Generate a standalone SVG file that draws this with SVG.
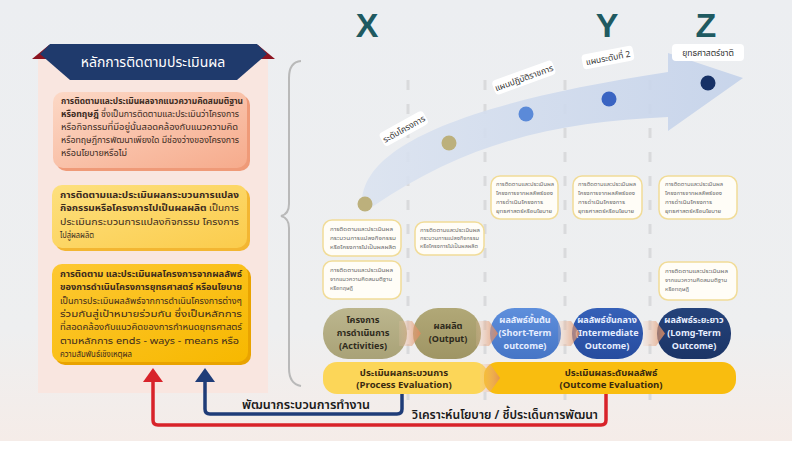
<svg xmlns="http://www.w3.org/2000/svg" width="795" height="450" viewBox="0 0 795 450">
<defs>
<linearGradient id="bg" x1="0" y1="0" x2="0" y2="1"><stop offset="0" stop-color="#eceef1"/><stop offset="0.75" stop-color="#eeeff0"/><stop offset="1" stop-color="#f5ece8"/></linearGradient>
<linearGradient id="g1" x1="0" y1="0" x2="1" y2="1"><stop offset="0" stop-color="#fcd8c6"/><stop offset="1" stop-color="#f6ab8c"/></linearGradient>
<linearGradient id="g2" x1="0" y1="0" x2="1" y2="1"><stop offset="0" stop-color="#fde07e"/><stop offset="1" stop-color="#fbcc4c"/></linearGradient>
<linearGradient id="g3" x1="0" y1="0" x2="1" y2="1"><stop offset="0" stop-color="#fdc832"/><stop offset="1" stop-color="#f7b800"/></linearGradient>
<linearGradient id="band" x1="0" y1="0" x2="1" y2="0"><stop offset="0" stop-color="#dbe3f0"/><stop offset="1" stop-color="#c4d2ea"/></linearGradient>
<linearGradient id="chev" x1="0" y1="0" x2="1" y2="0"><stop offset="0" stop-color="#f0c8b0" stop-opacity="0.2"/><stop offset="1" stop-color="#e08a5c"/></linearGradient>
<linearGradient id="n1" x1="0" y1="0" x2="0" y2="1"><stop offset="0" stop-color="#bcb68e"/><stop offset="1" stop-color="#a9a277"/></linearGradient>
<linearGradient id="n2" x1="0" y1="0" x2="0" y2="1"><stop offset="0" stop-color="#b1a877"/><stop offset="1" stop-color="#9f9564"/></linearGradient>
<linearGradient id="n3" x1="0" y1="0" x2="0" y2="1"><stop offset="0" stop-color="#5e8fdc"/><stop offset="1" stop-color="#4675c6"/></linearGradient>
<linearGradient id="n4" x1="0" y1="0" x2="0" y2="1"><stop offset="0" stop-color="#3560b8"/><stop offset="1" stop-color="#274c9e"/></linearGradient>
<linearGradient id="n5" x1="0" y1="0" x2="0" y2="1"><stop offset="0" stop-color="#24427a"/><stop offset="1" stop-color="#1b3466"/></linearGradient>
</defs>
<style>
text{font-family:"Noto Sans Thai","Noto Sans","DejaVu Sans",sans-serif}
.xyz{font-family:"Liberation Sans",Arial,sans-serif;font-weight:bold;font-size:34px;fill:#1f5a61;text-anchor:middle}
.bt{font-size:9.4px;fill:#3b2a1e}
.b{font-weight:bold}
.sm{fill:#fffdf7;stroke:#f1dc98;stroke-width:1.5}
.st{font-size:6px;fill:#6a6a6a}
.dash{stroke:#d9dadc;stroke-width:3;stroke-dasharray:10 14;fill:none}
.lab{fill:#ffffff}
.lt{font-size:8.5px;fill:#333;text-anchor:middle}
.nt{font-size:9px;font-weight:bold;text-anchor:middle}
.et{font-size:9.5px;font-weight:bold;fill:#3a2a10;text-anchor:middle}
.fb{font-size:13px;font-weight:600;fill:#1a1a1a;text-anchor:middle}
</style>
<rect x="0" y="0" width="795" height="450" fill="#ffffff"/>
<rect x="0" y="0" width="792" height="441" fill="url(#bg)"/>

<!-- left panel -->
<g id="panel">
<rect x="38" y="58" width="230" height="335" fill="#f9e6e0"/>
<polygon points="32,59 49,45 58,59" fill="#8c1420"/>
<polygon points="275,59 258,45 249,59" fill="#8c1420"/>
<polygon points="40,54 50,44 257,44 267,54 237,80 70,80" fill="#1f3a6c"/>
<text x="153" y="67" font-size="14" fill="#ffffff" text-anchor="middle">หลักการติดตามประเมินผล</text>
</g>

<g id="box1">
<rect x="56" y="95" width="194" height="76" rx="10" fill="#ef9a78"/>
<rect x="53" y="92" width="194" height="76" rx="10" fill="url(#g1)"/>
<text class="bt b" x="61" y="104" textLength="182" lengthAdjust="spacingAndGlyphs">การติดตามและประเมินผลจากแนวความคิดสมมติฐาน</text>
<text class="bt" x="61" y="117" textLength="178" lengthAdjust="spacingAndGlyphs"><tspan class="b">หรือทฤษฎี</tspan> ซึ่งเป็นการติดตามและประเมินว่าโครงการ</text>
<text class="bt" x="61" y="130" textLength="177" lengthAdjust="spacingAndGlyphs">หรือกิจกรรมที่มีอยู่นั้นสอดคล้องกับแนวความคิด</text>
<text class="bt" x="61" y="143" textLength="178" lengthAdjust="spacingAndGlyphs">หรือทฤษฎีการพัฒนาเพียงใด มีช่องว่างของโครงการ</text>
<text class="bt" x="61" y="156" textLength="66" lengthAdjust="spacingAndGlyphs">หรือนโยบายหรือไม่</text>
</g>

<g id="box2">
<rect x="55" y="188" width="195" height="63" rx="10" fill="#f3b632"/>
<rect x="52" y="185" width="195" height="63" rx="10" fill="url(#g2)"/>
<text class="bt b" x="60" y="198" textLength="179" lengthAdjust="spacingAndGlyphs">การติดตามและประเมินผลกระบวนการแปลง</text>
<text class="bt" x="60" y="211" textLength="179" lengthAdjust="spacingAndGlyphs"><tspan class="b">กิจกรรมหรือโครงการไปเป็นผลผลิต</tspan> เป็นการ</text>
<text class="bt" x="60" y="224.5" textLength="179" lengthAdjust="spacingAndGlyphs">ประเมินกระบวนการแปลงกิจกรรม โครงการ</text>
<text class="bt" x="60" y="238" textLength="34" lengthAdjust="spacingAndGlyphs">ไปสู่ผลผลิต</text>
</g>

<g id="box3">
<rect x="55" y="267" width="196" height="98" rx="10" fill="#e9a300"/>
<rect x="52" y="264" width="196" height="98" rx="10" fill="url(#g3)"/>
<text class="bt b" x="60" y="277" textLength="182" lengthAdjust="spacingAndGlyphs">การติดตาม และประเมินผลโครงการจากผลลัพธ์</text>
<text class="bt b" x="60" y="290.3" textLength="182" lengthAdjust="spacingAndGlyphs">ของการดำเนินโครงการยุทธศาสตร์ หรือนโยบาย</text>
<text class="bt" x="60" y="303.6" textLength="182" lengthAdjust="spacingAndGlyphs">เป็นการประเมินผลลัพธ์จากการดำเนินโครงการต่างๆ</text>
<text class="bt" x="60" y="316.9" textLength="182" lengthAdjust="spacingAndGlyphs">ร่วมกันสู่เป้าหมายร่วมกัน ซึ่งเป็นหลักการ</text>
<text class="bt" x="60" y="330.2" textLength="182" lengthAdjust="spacingAndGlyphs">ที่สอดคล้องกับแนวคิดของการกำหนดยุทธศาสตร์</text>
<text class="bt" x="60" y="343.5" textLength="179" lengthAdjust="spacingAndGlyphs">ตามหลักการ ends - ways - means หรือ</text>
<text class="bt" x="60" y="356.8" textLength="72" lengthAdjust="spacingAndGlyphs">ความสัมพันธ์เชิงเหตุผล</text>
</g>

<!-- brace -->
<path d="M301,61 Q289,62 289,78 L289,204 Q289,214 281,216 Q289,218 289,228 L289,368 Q289,384 301,386" fill="none" stroke="#b9b9b9" stroke-width="2"/>

<!-- dashed columns -->
<g id="columns">
<line class="dash" x1="408" y1="80" x2="408" y2="400"/>
<line class="dash" x1="485" y1="80" x2="485" y2="400"/>
<line class="dash" x1="565" y1="80" x2="565" y2="400"/>
<line class="dash" x1="650" y1="80" x2="650" y2="400"/>
</g>

<text class="xyz" x="367" y="37">X</text>
<text class="xyz" x="607" y="37">Y</text>
<text class="xyz" x="706" y="37">Z</text>

<!-- curved arrow -->
<g id="trend">
<path d="M362,203 C362,150 450,105 668,72 L668,53 L743,78 L668,131 L668,117 C560,122 470,140 372,207 Z" fill="url(#band)" opacity="0.9"/>
<circle cx="365" cy="204" r="7.5" fill="#bcb07c"/>
<circle cx="449" cy="143" r="7.5" fill="#bcb07c"/>
<circle cx="526" cy="114" r="7.5" fill="#5b8ad8"/>
<circle cx="609" cy="99" r="7.5" fill="#3a64c2"/>
<circle cx="708" cy="83" r="7.5" fill="#173166"/>
</g>
<g id="lab1" transform="translate(404,129) rotate(-29)"><rect class="lab" x="-25" y="-8" width="50" height="15" rx="4"/><text class="lt" x="0" y="3">ระดับโครงการ</text></g>
<g id="lab2" transform="translate(524,78) rotate(-20)"><rect class="lab" x="-32" y="-8" width="64" height="15" rx="4"/><text class="lt" x="0" y="3">แผนปฏิบัติราชการ</text></g>
<g id="lab3" transform="translate(608,58) rotate(-11)"><rect class="lab" x="-26" y="-8" width="52" height="15" rx="4"/><text class="lt" x="0" y="3">แผนระดับที่ 2</text></g>
<g id="lab4"><rect class="lab" x="672" y="44" width="72" height="17" rx="4"/><text class="lt" x="708" y="56" font-size="9.5">ยุทธศาสตร์ชาติ</text></g>

<!-- small boxes -->
<g id="sA1"><rect class="sm" x="323" y="220" width="78" height="36" rx="9"/>
<text class="st" x="330" y="231" textLength="63" lengthAdjust="spacingAndGlyphs">การติดตามและประเมินผล</text>
<text class="st" x="330" y="240" textLength="66" lengthAdjust="spacingAndGlyphs">กระบวนการแปลงกิจกรรม</text>
<text class="st" x="330" y="249" textLength="66" lengthAdjust="spacingAndGlyphs">หรือโครงการไปเป็นผลผลิต</text></g>
<g id="sB1"><rect class="sm" x="323" y="261" width="78" height="38" rx="9"/>
<text class="st" x="330" y="272" textLength="63" lengthAdjust="spacingAndGlyphs">การติดตามและประเมินผล</text>
<text class="st" x="330" y="281" textLength="62" lengthAdjust="spacingAndGlyphs">จากแนวความคิดสมมติฐาน</text>
<text class="st" x="330" y="290" textLength="23" lengthAdjust="spacingAndGlyphs">หรือทฤษฎี</text></g>
<g id="sA2"><rect class="sm" x="415" y="222" width="69" height="33" rx="9"/>
<text class="st" x="420" y="232" font-size="5.2" textLength="60" lengthAdjust="spacingAndGlyphs">การติดตามและประเมินผล</text>
<text class="st" x="420" y="240" font-size="5.2" textLength="59" lengthAdjust="spacingAndGlyphs">กระบวนการแปลงกิจกรรม</text>
<text class="st" x="420" y="248" font-size="5.2" textLength="58" lengthAdjust="spacingAndGlyphs">หรือโครงการไปเป็นผลผลิต</text></g>
<g id="sC1"><rect class="sm" x="491" y="176" width="67" height="43" rx="9"/>
<text class="st" x="496" y="186" textLength="58" lengthAdjust="spacingAndGlyphs">การติดตามและประเมินผล</text>
<text class="st" x="496" y="195" textLength="57" lengthAdjust="spacingAndGlyphs">โครงการจากผลลัพธ์ของ</text>
<text class="st" x="496" y="204" textLength="47" lengthAdjust="spacingAndGlyphs">การดำเนินโครงการ</text>
<text class="st" x="496" y="213" textLength="56" lengthAdjust="spacingAndGlyphs">ยุทธศาสตร์หรือนโยบาย</text></g>
<g id="sC2"><rect class="sm" x="573" y="176" width="69" height="43" rx="9"/>
<text class="st" x="578" y="186" textLength="58" lengthAdjust="spacingAndGlyphs">การติดตามและประเมินผล</text>
<text class="st" x="578" y="195" textLength="57" lengthAdjust="spacingAndGlyphs">โครงการจากผลลัพธ์ของ</text>
<text class="st" x="578" y="204" textLength="47" lengthAdjust="spacingAndGlyphs">การดำเนินโครงการ</text>
<text class="st" x="578" y="213" textLength="56" lengthAdjust="spacingAndGlyphs">ยุทธศาสตร์หรือนโยบาย</text></g>
<g id="sC3"><rect class="sm" x="659" y="176" width="78" height="43" rx="9"/>
<text class="st" x="665" y="186" textLength="58" lengthAdjust="spacingAndGlyphs">การติดตามและประเมินผล</text>
<text class="st" x="665" y="195" textLength="57" lengthAdjust="spacingAndGlyphs">โครงการจากผลลัพธ์ของ</text>
<text class="st" x="665" y="204" textLength="47" lengthAdjust="spacingAndGlyphs">การดำเนินโครงการ</text>
<text class="st" x="665" y="213" textLength="56" lengthAdjust="spacingAndGlyphs">ยุทธศาสตร์หรือนโยบาย</text></g>
<g id="sB2"><rect class="sm" x="659" y="262" width="78" height="38" rx="9"/>
<text class="st" x="665" y="273" textLength="63" lengthAdjust="spacingAndGlyphs">การติดตามและประเมินผล</text>
<text class="st" x="665" y="282" textLength="62" lengthAdjust="spacingAndGlyphs">จากแนวความคิดสมมติฐาน</text>
<text class="st" x="665" y="291" textLength="24" lengthAdjust="spacingAndGlyphs">หรือทฤษฎี</text></g>

<!-- flow nodes -->
<g id="n-act"><rect x="323" y="308" width="84" height="51" rx="25" fill="url(#n1)"/><text class="nt" fill="#2e2a1c" x="363" y="323"><tspan>โครงการ</tspan><tspan x="363" dy="13">การดำเนินการ</tspan><tspan x="363" dy="13">(Activities)</tspan></text></g>
<g id="n-out"><rect x="413" y="308" width="68" height="51" rx="25" fill="url(#n2)"/><text class="nt" fill="#2e2a1c" x="448" y="329"><tspan>ผลผลิต</tspan><tspan x="448" dy="13">(Output)</tspan></text></g>
<g id="n-st"><rect x="490" y="308" width="71" height="51" rx="25" fill="url(#n3)"/><text class="nt" fill="#e6eeff" x="525" y="323"><tspan>ผลลัพธ์ขั้นต้น</tspan><tspan x="525" dy="13">(Short-Term</tspan><tspan x="525" dy="13">outcome)</tspan></text></g>
<g id="n-im"><rect x="572" y="308" width="71" height="51" rx="25" fill="url(#n4)"/><text class="nt" fill="#e6eeff" x="607" y="323"><tspan>ผลลัพธ์ขั้นกลาง</tspan><tspan x="607" dy="13">(Intermediate</tspan><tspan x="607" dy="13">Outcome)</tspan></text></g>
<g id="n-lt"><rect x="657" y="308" width="74" height="51" rx="25" fill="url(#n5)"/><text class="nt" fill="#e6eeff" x="694" y="323"><tspan>ผลลัพธ์ระยะยาว</tspan><tspan x="694" dy="13">(Lomg-Term</tspan><tspan x="694" dy="13">Outcome)</tspan></text></g>
<g id="chevrons" fill="url(#chev)" opacity="0.85">
<path d="M399,321 L412,321 L421,333.5 L412,346 L399,346 Z"/>
<path d="M476,321 L489,321 L498,333.5 L489,346 L476,346 Z"/>
<path d="M558,321 L571,321 L580,333.5 L571,346 L558,346 Z"/>
<path d="M643,321 L656,321 L665,333.5 L656,346 L643,346 Z"/>
</g>

<!-- evaluation bars -->
<g id="e-proc"><rect x="323" y="362" width="165" height="32" rx="14" fill="#fcd658"/><text class="et" x="404" y="375.5"><tspan>ประเมินผลกระบวนการ</tspan><tspan x="404" dy="12.5">(Process Evaluation)</tspan></text></g>
<g id="e-outc"><rect x="484" y="362" width="252" height="32" rx="14" fill="#f9bd0f"/><path d="M480,364 L490,364 L500,378 L490,392 L480,392 Z" fill="url(#chev)" opacity="0.8"/><text class="et" x="611" y="375.5"><tspan>ประเมินผลระดับผลลัพธ์</tspan><tspan x="611" dy="12.5">(Outcome Evaluation)</tspan></text></g>

<!-- feedback connectors -->
<g id="connectors" fill="none" stroke-width="3.5" stroke-linejoin="round">
<path d="M153,380 L153,420 Q153,425 158,425 L601,425 Q606,425 606,420 L606,394" stroke="#d8232a"/>
<polygon points="143,382 153,368 163,382" fill="#d8232a" stroke="none"/>
<path d="M205,380 L205,409 Q205,414 210,414 L397,414 Q402,414 402,409 L402,394" stroke="#1f3c78"/>
<polygon points="195,382 205,368 215,382" fill="#1f3c78" stroke="none"/>
</g>
<text class="fb" x="306" y="409" textLength="128" lengthAdjust="spacingAndGlyphs">พัฒนากระบวนการทำงาน</text>
<text class="fb" x="505" y="419" textLength="186" lengthAdjust="spacingAndGlyphs">วิเคราะห์นโยบาย / ชี้ประเด็นการพัฒนา</text>
</svg>
